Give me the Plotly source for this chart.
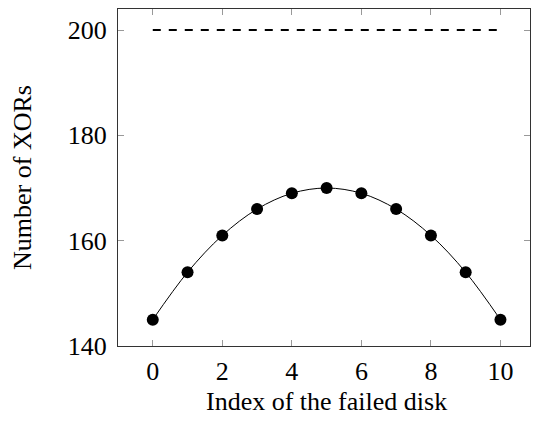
import plotly.graph_objects as go

disk_index = [0, 1, 2, 3, 4, 5, 6, 7, 8, 9, 10]
xors = [145, 154, 161, 166, 169, 170, 169, 166, 161, 154, 145]
baseline_x = [0, 10]
baseline_y = [200, 200]
x_ticks = [0, 2, 4, 6, 8, 10]
y_ticks = [140, 160, 180, 200]
x_title = "Index of the failed disk"
y_title = "Number of XORs"

fig = go.Figure()
fig.add_trace(go.Scatter(
    x=baseline_x, y=baseline_y, mode="lines",
    line=dict(color="black", width=2, dash="8px,8px"),
    showlegend=False, hoverinfo="skip"))
fig.add_trace(go.Scatter(
    x=disk_index, y=xors, mode="lines+markers",
    line=dict(color="black", width=1, shape="spline", smoothing=1.0),
    marker=dict(color="black", size=12),
    showlegend=False))

font = dict(family="Liberation Serif, Times New Roman, serif", size=26, color="black")
axis_common = dict(
    showgrid=False, zeroline=False, showline=True, linecolor="#333333", linewidth=1,
    mirror="ticks", ticks="inside", ticklen=6, tickcolor="#999999", tickwidth=1,
    tickfont=font, automargin=False,
)
fig.update_layout(
    width=523, height=407,
    margin=dict(l=110, r=1, t=1, b=69),
    plot_bgcolor="white", paper_bgcolor="white",
    font=font,
    xaxis=dict(range=[-1, 10.85], tickvals=x_ticks, ticklabelstandoff=2,
               **axis_common),
    yaxis=dict(range=[140, 204], tickvals=y_ticks, ticklabelstandoff=5,
               title=dict(text=y_title, font=font, standoff=28),
               **axis_common),
)
fig.add_annotation(
    text=x_title, font=font, showarrow=False,
    xref="x", x=5, yref="paper", y=0,
    xanchor="center", yanchor="bottom", yshift=-72,
)
fig.write_html("out.html")
